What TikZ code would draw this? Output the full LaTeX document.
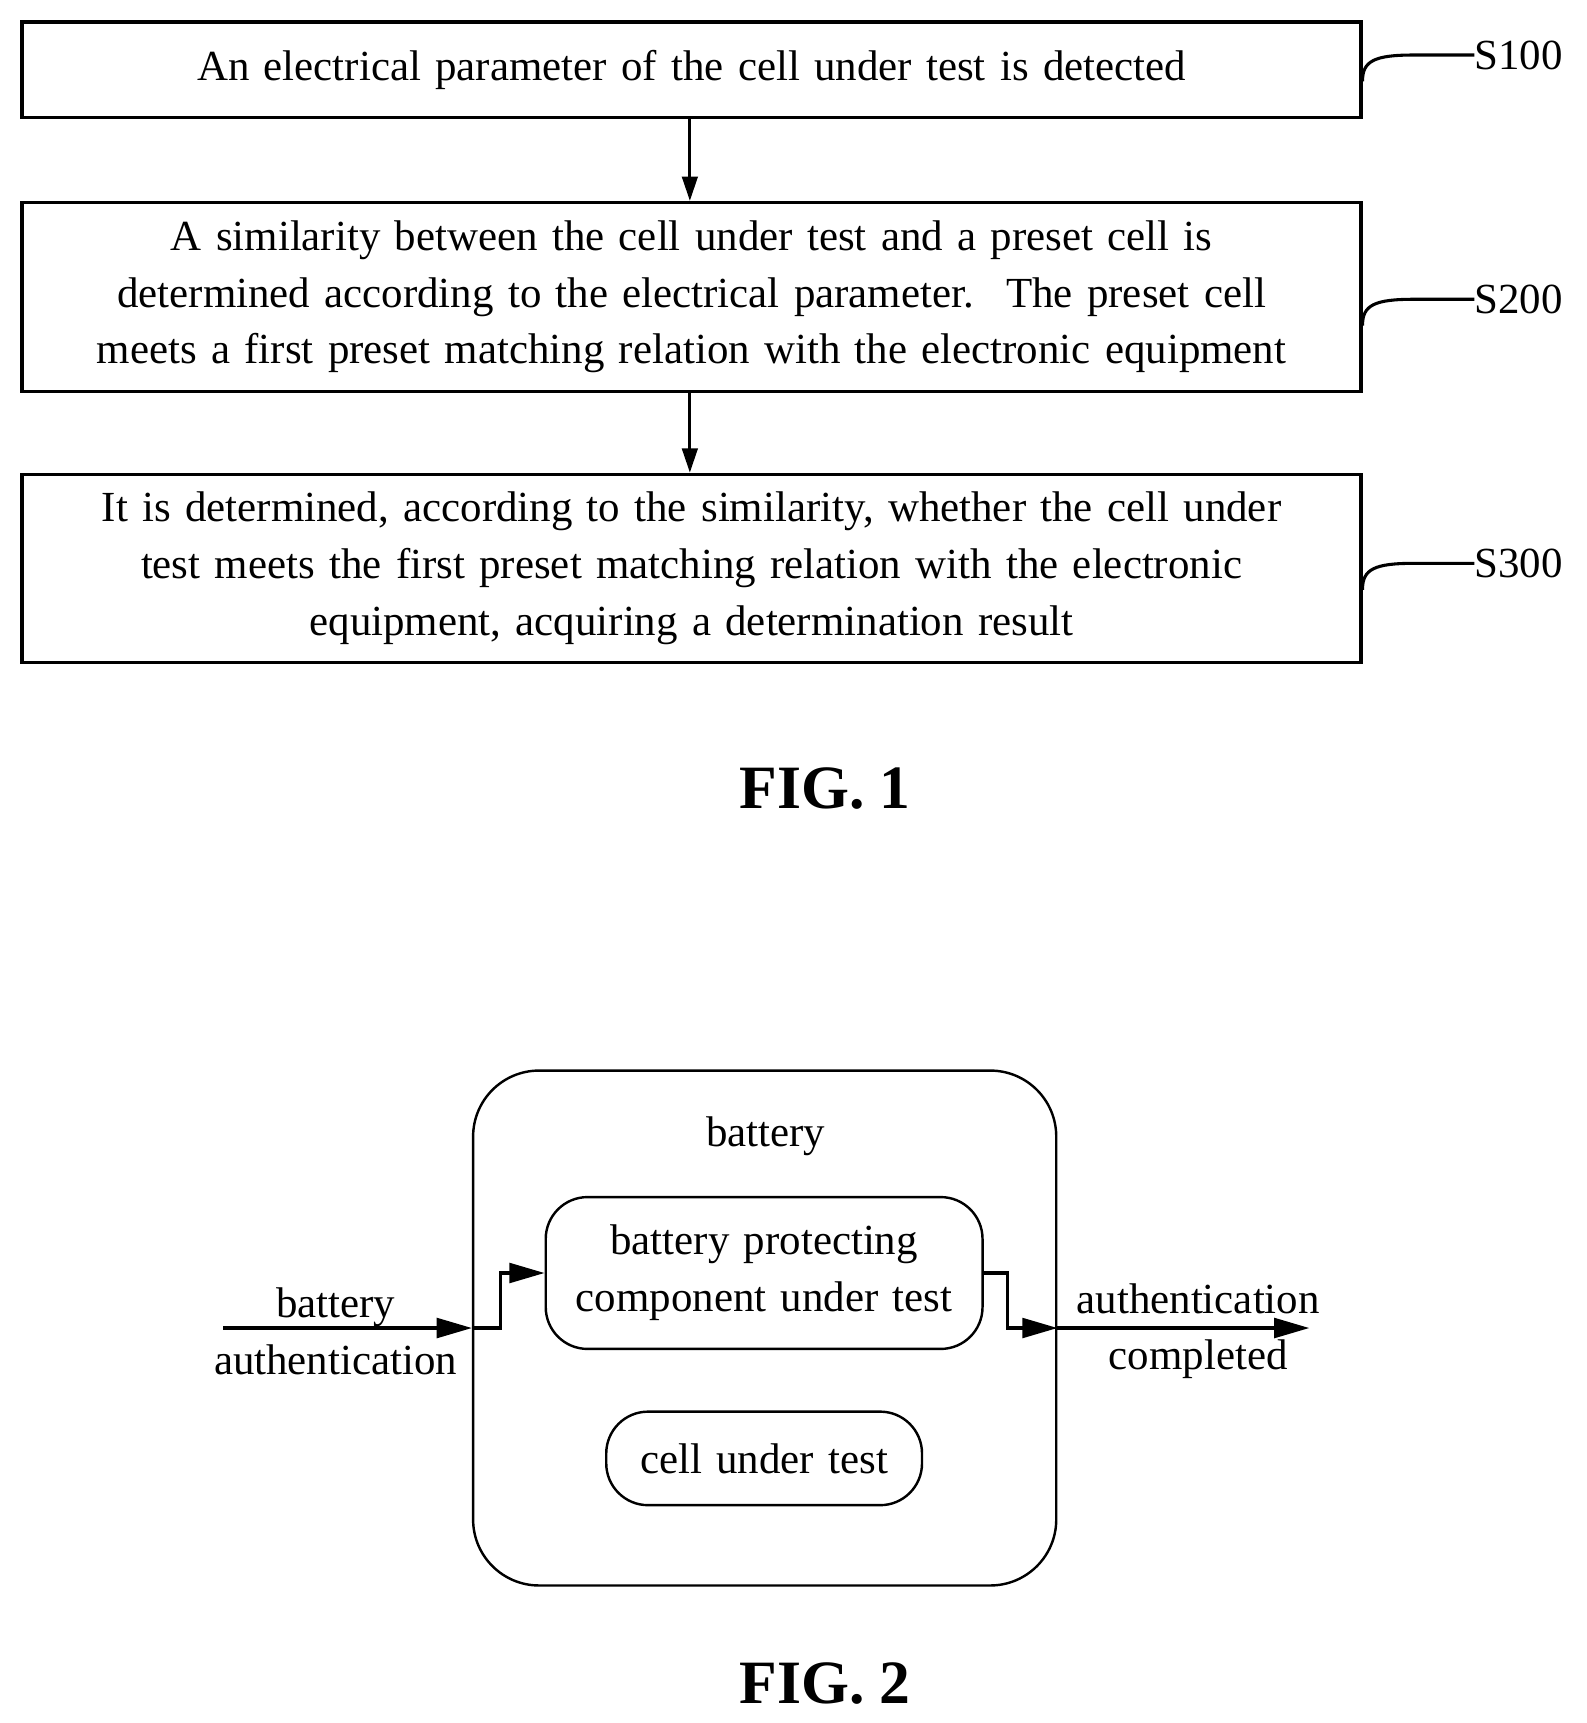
\documentclass[tikz,border=0pt]{standalone}
\usepackage{fontspec}
\setmainfont{Liberation Serif}
\usetikzlibrary{arrows.meta}
\newcommand{\myfont}{\fontsize{39}{51.5}\selectfont\spaceskip=13pt plus 2pt minus 2pt\relax}
\begin{document}
\begin{tikzpicture}[x=1pt,y=-1pt,
 box/.style={draw,line width=2.8pt,inner sep=0pt,align=center,font=\myfont},
 rbox/.style={draw,line width=2.2pt,rounded corners=38pt,inner sep=0pt,align=center,font=\myfont},
 lbl/.style={font=\myfont,align=center},
 ar/.style={line width=2.8pt,-{Triangle[length=22pt,width=14pt]}},
 ar2/.style={line width=2.8pt,-{Triangle[length=32pt,width=18pt]}},
 lead/.style={line width=2.8pt}]
\useasboundingbox (0,0) rectangle (1442,1566);
% FIG 1
\node[box,minimum width=1217pt,minimum height=87pt] (b1) at (628.5,63.5) {An electrical parameter of the cell under test is detected};
\node[box,minimum width=1217pt,minimum height=172pt] (b2) at (628.5,270) {A similarity between the cell under test and a preset cell is\\determined according to the electrical parameter.~ The preset cell\\meets a first preset matching relation with the electronic equipment};
\node[box,minimum width=1217pt,minimum height=171pt] (b3) at (628.5,516.5) {It is determined, according to the similarity, whether the cell under\\test meets the first preset matching relation with the electronic\\equipment, acquiring a determination result};
\draw[ar] (b1.south -| 627,0) -- (b2.north -| 627,0);
\draw[ar] (b2.south -| 627,0) -- (b3.north -| 627,0);
\node[lbl,anchor=west,inner sep=0pt] (s1) at (1340,50) {S100};
\node[lbl,anchor=west,inner sep=0pt] (s2) at (1340,272) {S200};
\node[lbl,anchor=west,inner sep=0pt] (s3) at (1340,512) {S300};
\foreach \b/\s/\y in {b1/s1/50,b2/s2/272,b3/s3/512}{
 \draw[lead] (\s.west) -- ++(-55,0) .. controls (1250,\y) and (1238,\y+5) .. (\b.east |- 0,\y+24);
}
\node[lbl,font=\fontsize{56}{60}\selectfont\bfseries] (f1) at (750,717) {FIG. 1};
% FIG 2
\node[draw,line width=2.2pt,rounded corners=60pt,minimum width=530pt,minimum height=468pt] (bat) at (695,1207) {};
\node[lbl] (batl) at (696,1033) {battery};
\node[rbox,minimum width=397pt,minimum height=138pt] (bp) at (694.5,1157) {battery protecting\\component under test};
\node[rbox,minimum width=287pt,minimum height=85pt] (cell) at (694.5,1325.5) {cell under test};
\coordinate (in) at (203,1207);
\coordinate (out) at (1190,1207);
\draw[ar2] (in) -- (bat.west);
\draw[ar2] (bat.west) -- ++(26,0) |- (bp.west);
\draw[ar2] (bp.east) -- ++(22,0) |- (bat.east);
\draw[ar2] (bat.east) -- (out);
\node[lbl] (inl) at (305,1210) {battery\\authentication};
\node[lbl] (outl) at (1089,1210) {authentication\\completed};
\node[lbl,font=\fontsize{56}{60}\selectfont\bfseries] (f2) at (750,1530) {FIG. 2};
\end{tikzpicture}
\end{document}
